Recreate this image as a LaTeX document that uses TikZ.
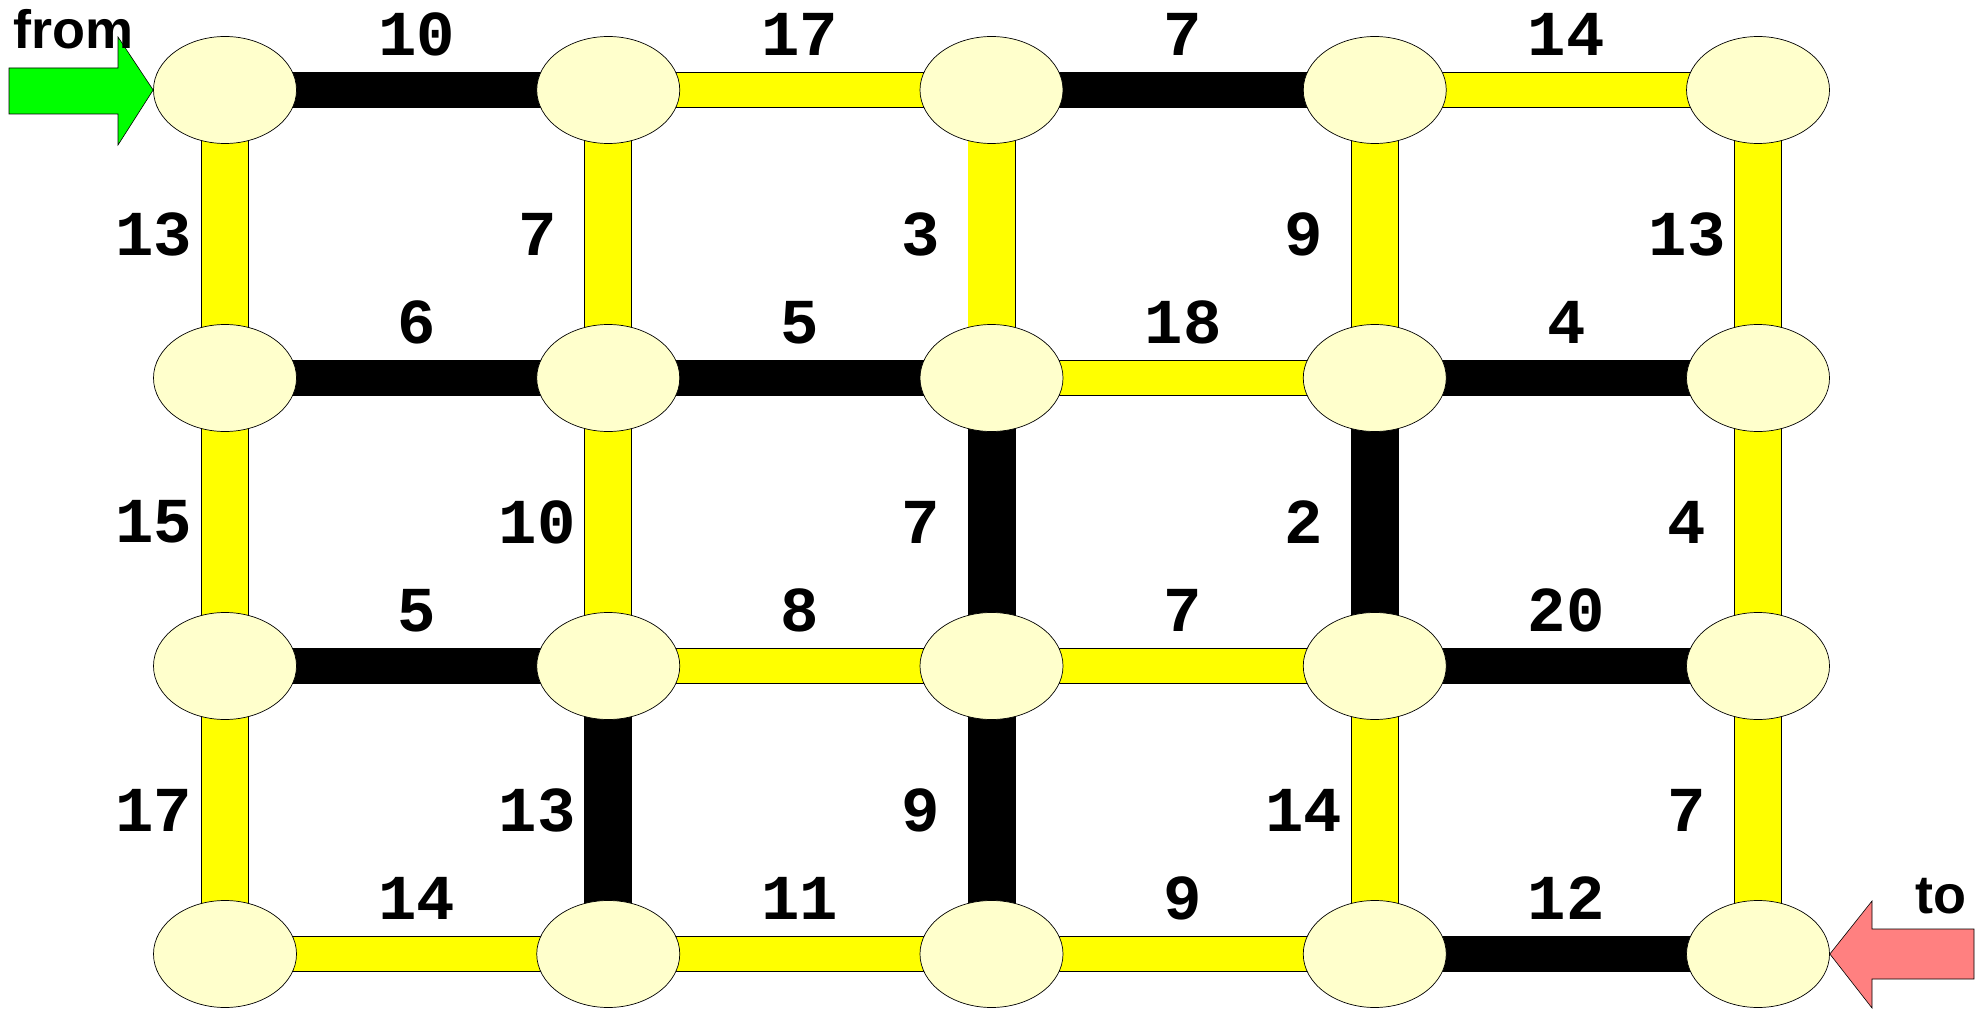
\documentclass[tikz,border=0pt]{standalone}
\usepackage{fontspec}
\setmainfont{Liberation Sans}
\newfontfamily\labelfont{Liberation Mono}
\usetikzlibrary{shapes.geometric,backgrounds,calc}
\definecolor{nodefill}{HTML}{FFFFCC}
\definecolor{baryellow}{HTML}{FFFF00}
\definecolor{arrowgreen}{HTML}{00FF00}
\definecolor{arrowred}{HTML}{FF8080}
\begin{document}
\begin{tikzpicture}[x=1pt,y=-1pt,
  vert/.style={ellipse, draw=black, line width=0.7pt, fill=nodefill,
    minimum width=143pt, minimum height=107pt, inner sep=0pt},
  hy/.style={draw=black, line width=0.8pt, double=baryellow, double distance=34.4pt},
  vy/.style={draw=black, line width=0.8pt, double=baryellow, double distance=46.4pt},
  hk/.style={draw=black, line width=36pt},
  vk/.style={draw=black, line width=48pt},
  lab/.style={inner sep=0pt, font=\labelfont\bfseries\fontsize{64}{70}\selectfont},
  big/.style={inner sep=0pt, font=\bfseries\fontsize{54}{60}\selectfont},
  arrowshape/.style={draw=black, line width=0.6pt}]
\useasboundingbox (0,0) rectangle (1981,1011);
% vertices
\foreach \c in {0,...,4} {
  \foreach \r in {0,...,3} {
    \node[vert] (n\c\r) at ({225+383.25*\c},{90+288*\r}) {};
  }
}
% horizontal edges: col/row/label/style
\foreach \c/\r/\t/\s in {0/0/10/hk, 1/0/17/hy, 2/0/7/hk, 3/0/14/hy,
                         0/1/6/hk, 1/1/5/hk, 2/1/18/hy, 3/1/4/hk,
                         0/2/5/hk, 1/2/8/hy, 2/2/7/hy, 3/2/20/hk,
                         0/3/14/hy, 1/3/11/hy, 2/3/9/hy, 3/3/12/hk} {
  \pgfmathtruncatemacro\cn{\c+1}
  \begin{scope}[on background layer]
    \draw[\s] (n\c\r.center) -- (n\cn\r.center);
  \end{scope}
  \node[lab] (lh\c\r) at ($(n\c\r)!0.5!(n\cn\r)+(0,-55.5)$) {\t};
}
% vertical edges: col/row/label/style
\foreach \c/\r/\t/\s in {0/0/13/vy, 1/0/7/vy, 2/0/3/vy, 3/0/9/vy, 4/0/13/vy,
                         0/1/15/vy, 1/1/10/vy, 2/1/7/vk, 3/1/2/vk, 4/1/4/vy,
                         0/2/17/vy, 1/2/13/vk, 2/2/9/vk, 3/2/14/vy, 4/2/7/vy} {
  \pgfmathtruncatemacro\rn{\r+1}
  \begin{scope}[on background layer]
    \draw[\s] (n\c\r.center) -- (n\c\rn.center);
  \end{scope}
  \node[lab] (lv\c\r) at ($(n\c\r)!0.5!(n\c\rn)+(-71,0)$) {\t};
}
% from arrow
\draw[arrowshape, fill=arrowgreen] (9,68) -- (118,68) -- (118,37) -- (n00.west)
  -- (118,145) -- (118,114) -- (9,114) -- cycle;
\node[big, anchor=base west] (from) at (13,49) {from};
% to arrow
\draw[arrowshape, fill=arrowred] (n43.east) -- (1872,901) -- (1872,929) -- (1974,929)
  -- (1974,979) -- (1872,979) -- (1872,1008) -- cycle;
\node[big, anchor=base east] (to) at (1967,913) {to};
\end{tikzpicture}
\end{document}
